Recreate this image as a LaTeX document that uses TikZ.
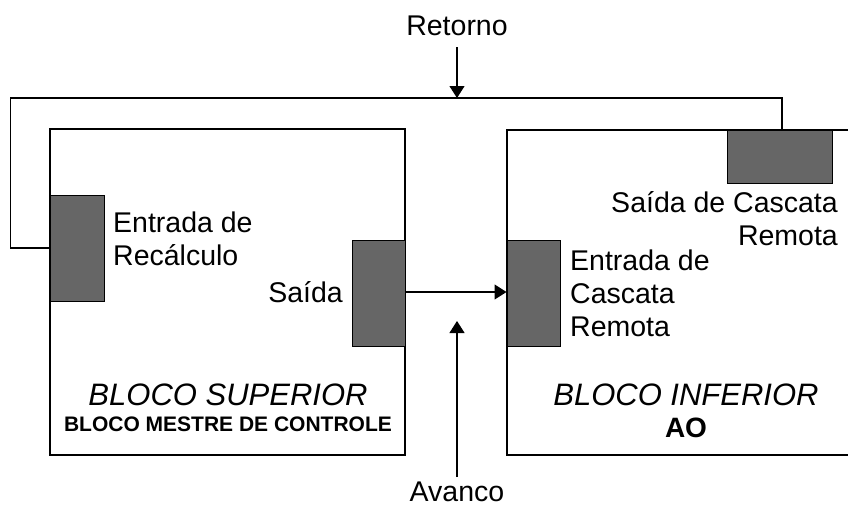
\documentclass[tikz,border=0pt]{standalone}
\usepackage{fontspec}
\setmainfont{Liberation Sans}
\usetikzlibrary{arrows.meta}
\definecolor{boxgray}{HTML}{666666}
\begin{document}
\begin{tikzpicture}[x=1pt,y=-1pt,
  block/.style={draw=black, line width=1.2pt, inner sep=0pt},
  port/.style={draw=black, fill=boxgray, line width=1pt, inner sep=0pt},
  wire/.style={draw=black, line width=1.2pt},
  arr/.style={wire, -{Triangle[length=12pt,width=15pt]}},
  lbl/.style={inner sep=0pt, font=\fontsize{28.5}{33}\selectfont},
  title/.style={inner sep=0pt, font=\fontsize{31}{36}\selectfont\itshape},
  sub/.style={inner sep=0pt, font=\fontsize{21}{25}\selectfont\bfseries},
  subbig/.style={inner sep=0pt, font=\fontsize{28}{33}\selectfont\bfseries}]
\useasboundingbox (0,0) rectangle (848,506);
\clip (0,0) rectangle (848,506);
% blocks
\node[block, minimum width=355pt, minimum height=326pt] (sup) at (227.5,292) {};
\node[block, minimum width=359pt, minimum height=325pt] (inf) at (686.5,292.5) {};
% ports
\node[port, minimum width=54pt, minimum height=106pt] (recalc) at (77,248) {};
\node[port, minimum width=53pt, minimum height=106pt] (saida) at (378.5,293) {};
\node[port, minimum width=53pt, minimum height=106pt] (entcasc) at (533.5,293) {};
\node[port, minimum width=105pt, minimum height=53pt] (saicasc) at (779.5,156.5) {};
% labels
\node[lbl, anchor=base] (retorno) at (457,35) {Retorno};
\node[lbl, anchor=base] (avanco) at (457,501) {Avanco};
\node[lbl, anchor=north west, align=left] (lrecalc) at (113,211.5) {Entrada de\\Recálculo};
\node[lbl, anchor=base east] (lsaida) at (343,302) {Saída};
\node[lbl, anchor=north west, align=left] (lentcasc) at (570,249.5) {Entrada de\\Cascata\\Remota};
\node[lbl, anchor=north east, align=right] (lsaicasc) at (838,191) {Saída de Cascata\\Remota};
\node[title, anchor=base] (tsup) at (228,405) {BLOCO SUPERIOR};
\node[sub, anchor=base] (ssup) at (228,431) {BLOCO MESTRE DE CONTROLE};
\node[title, anchor=base] (tinf) at (686,405) {BLOCO INFERIOR};
\node[subbig, anchor=base] (sinf) at (686,437) {AO};
% connectors
\coordinate (rettip) at (457,98);
\coordinate (avtip) at (457,321);
\draw[wire] (recalc.west) -- ++(-39,0) |- ([xshift=2.5pt]saicasc.north |- rettip) -- ([xshift=2.5pt]saicasc.north);
\draw[arr] ([yshift=-12pt]retorno.south) -- (rettip);
\draw[arr] ([yshift=1pt]saida.east) -- ([yshift=1pt]entcasc.west);
\draw[arr] ([yshift=4pt]avanco.north) -- (avtip);
\end{tikzpicture}
\end{document}
